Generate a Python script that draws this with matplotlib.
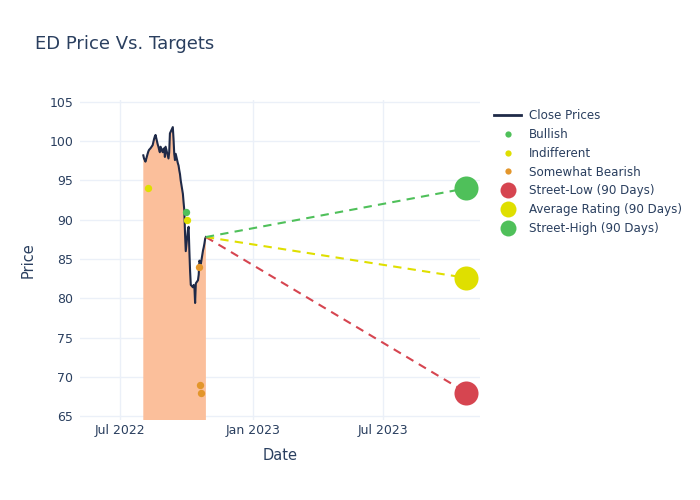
import matplotlib
matplotlib.use("Agg")
import matplotlib.pyplot as plt
import matplotlib.dates as mdates
from matplotlib.lines import Line2D
import pandas as pd

plt.rcParams['font.family'] = ['DejaVu Sans']

# ---- data ----
close_dates = pd.bdate_range('2022-08-02', '2022-10-28').drop(pd.Timestamp('2022-09-05'))
close_prices = [98.2, 97.8, 97.6, 97.4, 98.4, 98.7, 98.9, 99.0, 99.1, 99.5,
                99.9, 100.3, 100.6, 100.8, 99.6, 99.3, 98.9, 98.6, 99.3, 98.6,
                99.0, 99.1, 98.0, 99.3, 97.8, 98.6, 101.0, 101.2, 101.8, 100.3,
                98.4, 97.6, 98.4, 97.2, 96.9, 96.3, 95.8, 95.0, 93.3, 92.2,
                91.2, 88.2, 86.0, 88.7, 89.1, 86.1, 83.5, 81.7, 81.4, 81.7,
                81.5, 79.4, 81.9, 82.3, 83.0, 84.8, 84.6, 84.4, 86.1, 86.5,
                87.0, 87.6, 87.8]

bullish_dates = ['2022-09-30']
bullish_vals = [91.0]
indiff_dates = ['2022-08-08', '2022-10-02']
indiff_vals = [94.0, 90.0]
bearish_dates = ['2022-10-19', '2022-10-20', '2022-10-21']
bearish_vals = [84.0, 69.0, 68.0]

target_date = '2023-10-25'
street_low = 68.0
avg_rating = 82.6
street_high = 94.0

# ---- colors ----
c_line = '#1f2a48'
c_fill = '#fbbf9b'
c_green = '#4fc05a'
c_yellow = '#dfdf00'
c_orange = '#e3962b'
c_red = '#d64550'
c_text = '#2a3f5f'
c_grid = '#ebf0f8'

fig = plt.figure(figsize=(7, 5), dpi=100)
ax = fig.add_axes([80/700, 80/500, 400/700, 320/500])

cd = pd.to_datetime(close_dates)
ax.fill_between(cd, close_prices, 0, color=c_fill, lw=0, zorder=2)
ax.plot(cd, close_prices, color=c_line, lw=1.5, zorder=3)

last_d = cd[-1]
last_p = close_prices[-1]
td = pd.Timestamp(target_date)
for val, col in [(street_low, c_red), (avg_rating, c_yellow), (street_high, c_green)]:
    ax.plot([last_d, td], [last_p, val], color=col, lw=1.5, ls=(0, (4, 3)), zorder=3)

ax.scatter(pd.to_datetime(bullish_dates), bullish_vals, s=28, color=c_green, zorder=4, lw=0)
ax.scatter(pd.to_datetime(indiff_dates), indiff_vals, s=28, color=c_yellow, zorder=4, lw=0)
ax.scatter(pd.to_datetime(bearish_dates), bearish_vals, s=28, color=c_orange, zorder=4, lw=0)
ax.scatter([td], [street_low], s=300, color=c_red, zorder=5, lw=0)
ax.scatter([td], [avg_rating], s=300, color=c_yellow, zorder=5, lw=0)
ax.scatter([td], [street_high], s=300, color=c_green, zorder=5, lw=0)

ax.set_xlim(pd.Timestamp('2022-05-06'), pd.Timestamp('2023-11-13'))
ax.set_ylim(64.5, 105.25)
ax.set_yticks([65, 70, 75, 80, 85, 90, 95, 100, 105])
ax.xaxis.set_major_locator(mdates.MonthLocator(bymonth=[1, 7]))
ax.xaxis.set_major_formatter(mdates.DateFormatter('%b %Y'))
ax.grid(True, color=c_grid, lw=1, zorder=0)
ax.set_axisbelow(True)
for s in ax.spines.values():
    s.set_visible(False)
ax.tick_params(axis='x', length=0, labelsize=9, colors=c_text, pad=3)
ax.tick_params(axis='y', length=0, labelsize=9, colors=c_text, pad=5)
ax.set_xlabel('Date', fontsize=10.5, color=c_text, labelpad=8)
ax.set_ylabel('Price', fontsize=10.5, color=c_text, labelpad=10)

fig.text(35/700, 1 - 44/500, 'ED Price Vs. Targets', fontsize=13, color=c_text,
         va='center', ha='left')

handles = [
    Line2D([], [], color=c_line, lw=2),
    Line2D([], [], ls='', marker='o', ms=4.5, color=c_green, mew=0),
    Line2D([], [], ls='', marker='o', ms=4.5, color=c_yellow, mew=0),
    Line2D([], [], ls='', marker='o', ms=4.5, color=c_orange, mew=0),
    Line2D([], [], ls='', marker='o', ms=11.5, color=c_red, mew=0),
    Line2D([], [], ls='', marker='o', ms=11.5, color=c_yellow, mew=0),
    Line2D([], [], ls='', marker='o', ms=11.5, color=c_green, mew=0),
]
labels = ['Close Prices', 'Bullish', 'Indifferent', 'Somewhat Bearish',
          'Street-Low (90 Days)', 'Average Rating (90 Days)', 'Street-High (90 Days)']
leg = fig.legend(handles, labels, loc='upper left', bbox_to_anchor=(494/700, 1 - 109/500),
                 frameon=False, fontsize=8.6, labelspacing=0.49, handlelength=2.3,
                 handletextpad=0.65, borderaxespad=0, borderpad=0)
for t in leg.get_texts():
    t.set_color(c_text)

fig.savefig('out.png', dpi=100)
